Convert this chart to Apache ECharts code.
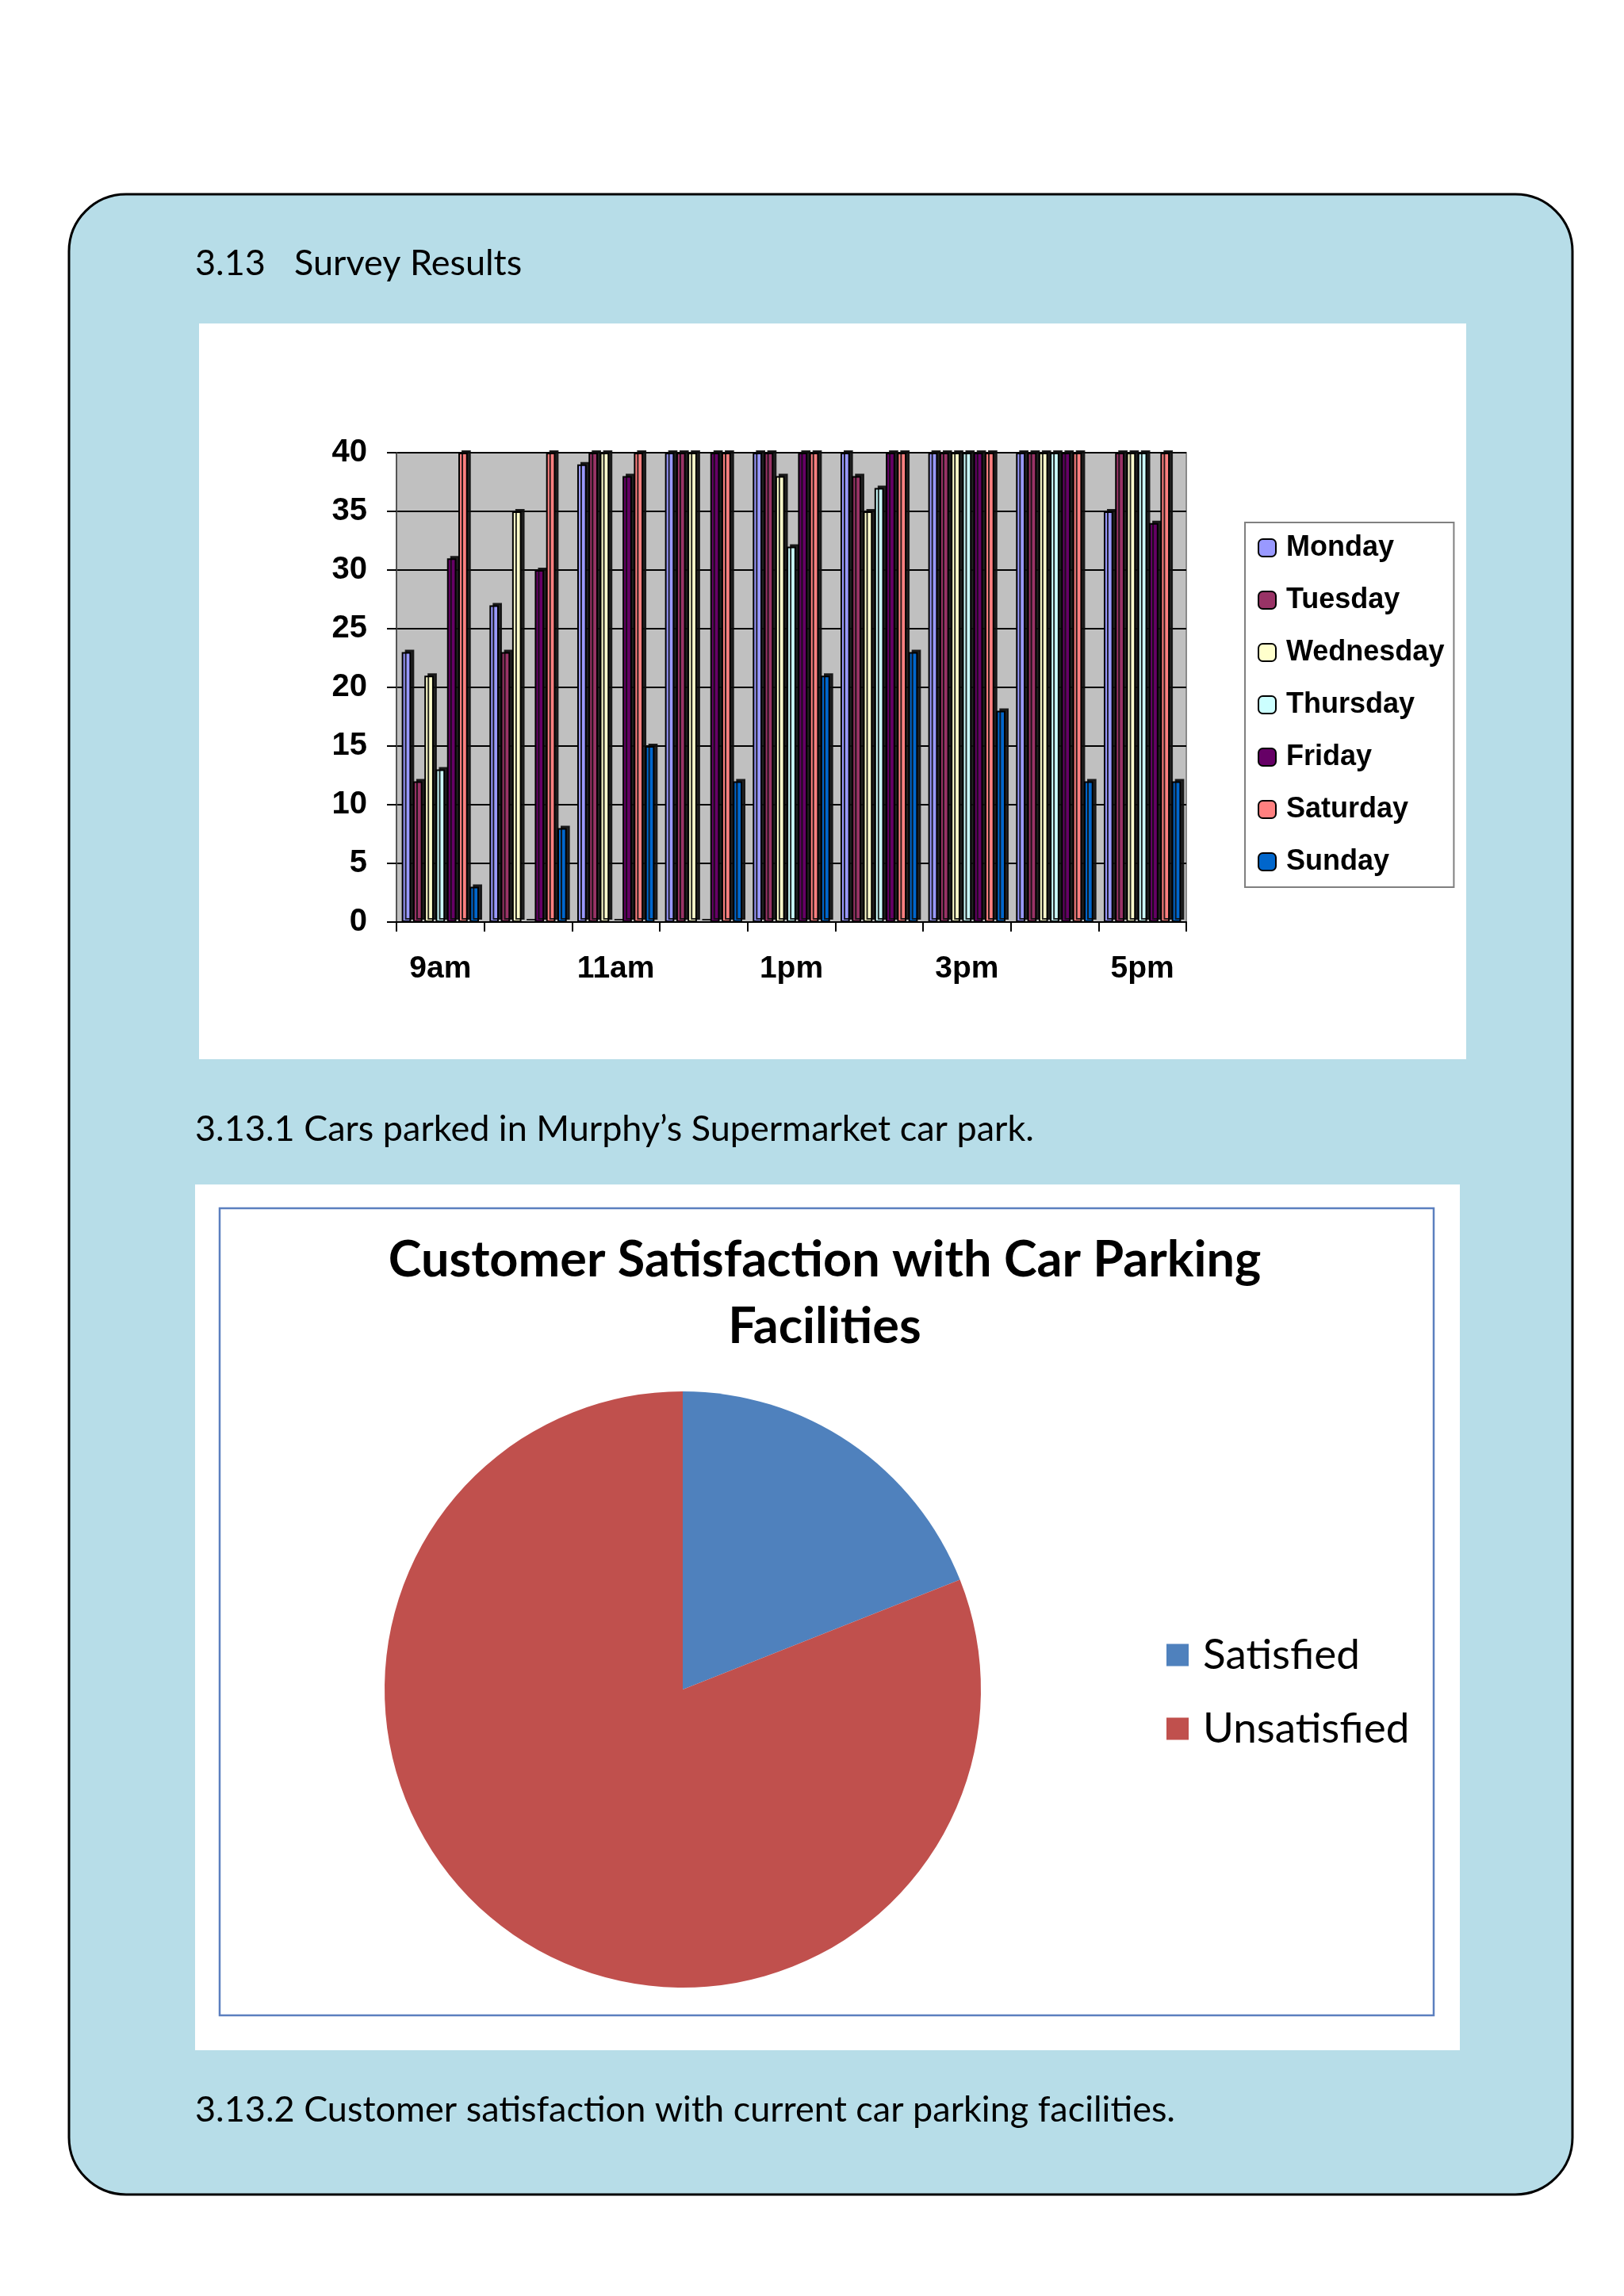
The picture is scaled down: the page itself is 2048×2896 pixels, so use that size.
<!DOCTYPE html>
<html>
<head>
<meta charset="utf-8">
<script src="https://cdn.jsdelivr.net/npm/echarts@6/dist/echarts.min.js"></script>
<style>
html,body{margin:0;padding:0;background:#ffffff;}
#c{width:2048px;height:2896px;}
</style>
</head>
<body>
<div id="c"></div>
<script>
// ---- Data ----
const hours = ['9am','10am','11am','12pm','1pm','2pm','3pm','4pm','5pm'];
const days = ['Monday','Tuesday','Wednesday','Thursday','Friday','Saturday','Sunday'];
const monday    = [23, 27, 39, 40, 40, 40, 40, 40, 35];
const tuesday   = [12, 23, 40, 40, 40, 38, 40, 40, 40];
const wednesday = [21, 35, 40, 40, 38, 35, 40, 40, 40];
const thursday  = [13,  0,  0,  0, 32, 37, 40, 40, 40];
const friday    = [31, 30, 38, 40, 40, 40, 40, 40, 34];
const saturday  = [40, 40, 40, 40, 40, 40, 40, 40, 40];
const sunday    = [ 3,  8, 15, 12, 21, 23, 18, 12, 12];
const yTicks = [0, 5, 10, 15, 20, 25, 30, 35, 40];

const satisfactionLabels = ['Satisfied', 'Unsatisfied'];
const satisfactionValues = [19, 81];

// ---- Styles ----
const dayColors = ['#9999FF','#993366','#FFFFCC','#CCFFFF','#660066','#FF8080','#0066CC'];
const pieColors = ['#4F81BD','#C0504D'];
const dayData = [monday, tuesday, wednesday, thursday, friday, saturday, sunday];

const chart = echarts.init(document.getElementById('c'), null, {renderer:'canvas'});

const capFont = '45px Lato, "Open Sans", sans-serif';

const barSeries = days.map((d, i) => ({
  name: d,
  type: 'bar',
  xAxisIndex: 0, yAxisIndex: 0,
  data: dayData[i],
  barGap: '22%',
  barCategoryGap: '12%',
  itemStyle: {
    color: dayColors[i],
    borderColor: '#000',
    borderWidth: 2,
    shadowColor: 'rgba(15,15,15,0.9)',
    shadowOffsetX: 4,
    shadowOffsetY: -3,
    shadowBlur: 0
  },
  emphasis: {disabled: true}
}));

const option = {
  animation: false,
  backgroundColor: '#ffffff',
  graphic: [
    {type:'rect', z:-20, shape:{x:87, y:245, width:1896, height:2523, r:72},
     style:{fill:'#B7DDE8', stroke:'#000', lineWidth:3}},
    {type:'rect', z:-10, shape:{x:251, y:408, width:1598, height:928},
     style:{fill:'#ffffff'}},
    {type:'rect', z:-10, shape:{x:246, y:1494, width:1595, height:1092},
     style:{fill:'#ffffff'}},
    {type:'rect', z:-9, shape:{x:277, y:1524, width:1531, height:1018},
     style:{fill:'none', stroke:'#5B7FBF', lineWidth:2.5}},
    {type:'text', z:5, style:{text:'3.13', x:246, y:332, font:capFont, fill:'#000', textVerticalAlign:'middle'}},
    {type:'text', z:5, style:{text:'Survey Results', x:371, y:332, font:capFont, fill:'#000', textVerticalAlign:'middle'}},
    {type:'text', z:5, style:{text:'3.13.1 Cars parked in Murphy\u2019s Supermarket car park.', x:246, y:1424, font:capFont, fill:'#000', textVerticalAlign:'middle'}},
    {type:'text', z:5, style:{text:'3.13.2 Customer satisfaction with current car parking facilities.', x:246, y:2661, font:capFont, fill:'#000', textVerticalAlign:'middle'}},
    {type:'text', z:5, style:{text:'Customer Satisfaction with Car Parking', x:1040, y:1590, font:'bold 63px Lato, "Open Sans", sans-serif', fill:'#000', textAlign:'center', textVerticalAlign:'middle'}},
    {type:'text', z:5, style:{text:'Facilities', x:1040, y:1674, font:'bold 63px Lato, "Open Sans", sans-serif', fill:'#000', textAlign:'center', textVerticalAlign:'middle'}}
  ],
  legend: [
    {
      data: days,
      orient: 'vertical',
      left: 1570, top: 659,
      padding: [12, 12, 12, 16],
      itemWidth: 22, itemHeight: 22,
      itemGap: 26,
      borderColor: '#808080', borderWidth: 2,
      backgroundColor: '#ffffff',
      selectedMode: false,
      textStyle: {fontFamily: '"Liberation Sans", Arial, sans-serif', fontWeight: 'bold', fontSize: 36, color: '#000', lineHeight: 40, padding:[0,0,0,8]}
    },
    {
      data: satisfactionLabels,
      orient: 'vertical',
      left: 1466, top: 2056,
      itemWidth: 28, itemHeight: 28,
      itemGap: 40,
      selectedMode: false,
      icon: 'rect',
      textStyle: {fontFamily: 'Lato, "Open Sans", sans-serif', fontSize: 53, color: '#000', lineHeight: 46, padding:[0,0,0,13]}
    }
  ],
  grid: {
    left: 500, top: 571, width: 996, height: 592,
    show: true, backgroundColor: '#C0C0C0', borderColor: '#8a8a8a', borderWidth: 2
  },
  xAxis: {
    type: 'category',
    data: hours,
    boundaryGap: true,
    axisLine: {show: true, lineStyle: {color: '#000', width: 2}},
    axisTick: {show: true, interval: 0, length: 12, lineStyle: {color: '#000', width: 2}},
    axisLabel: {interval: 1, margin: 40, fontFamily: '"Liberation Sans", Arial, sans-serif', fontWeight: 'bold', fontSize: 39, color: '#000'},
    splitLine: {show: false}
  },
  yAxis: {
    type: 'value',
    min: 0, max: 40, interval: 5,
    axisLine: {show: true, lineStyle: {color: '#555', width: 2}},
    axisTick: {show: true, length: 12, lineStyle: {color: '#000', width: 2}},
    axisLabel: {margin: 37, fontFamily: '"Liberation Sans", Arial, sans-serif', fontWeight: 'bold', fontSize: 40, color: '#000'},
    splitLine: {show: true, lineStyle: {color: '#000', width: 2}}
  },
  series: barSeries.concat([
    {
      name: 'Satisfaction',
      type: 'pie',
      center: [861, 2131],
      radius: [0, 376],
      startAngle: 90,
      clockwise: true,
      label: {show: false},
      labelLine: {show: false},
      emphasis: {disabled: true},
      data: satisfactionLabels.map((n, i) => ({name: n, value: satisfactionValues[i], itemStyle: {color: pieColors[i]}}))
    }
  ])
};
chart.setOption(option);
</script>
</body>
</html>
